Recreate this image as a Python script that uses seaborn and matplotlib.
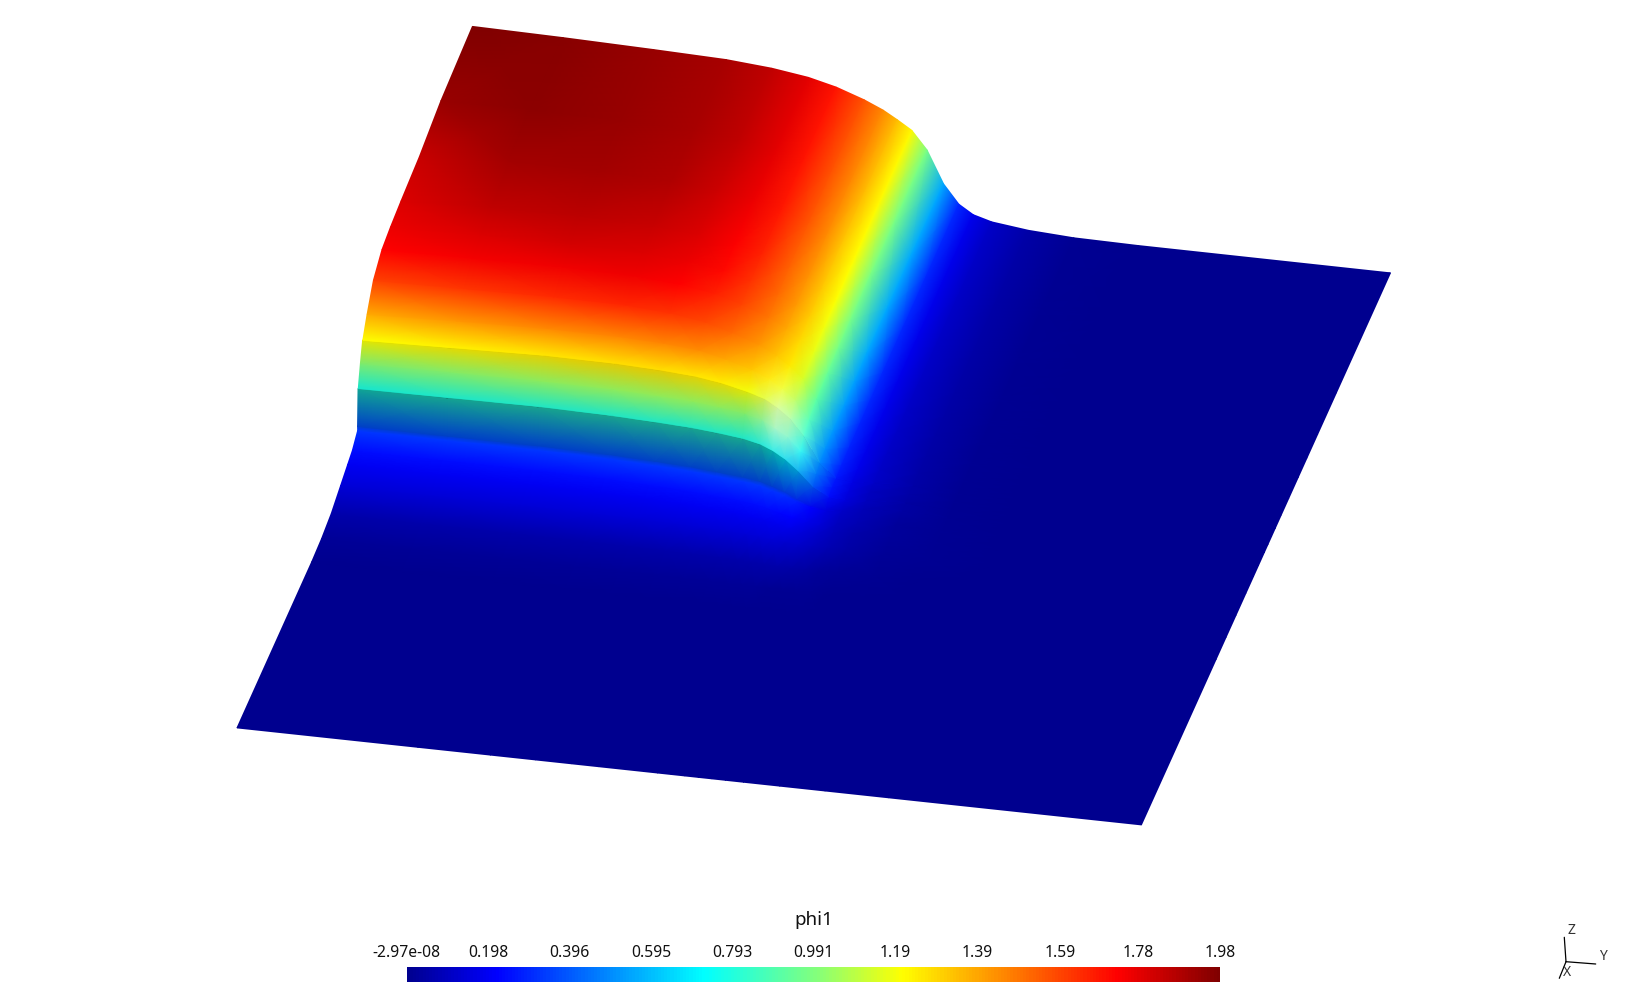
import numpy as np
import seaborn as sns
import matplotlib
matplotlib.use("Agg")
import matplotlib.pyplot as plt
from matplotlib.colors import LinearSegmentedColormap, Normalize

# ================= values =================
tick_values = [0.0, 0.198, 0.396, 0.595, 0.793, 0.991, 1.19, 1.39, 1.59, 1.78, 1.98]
tick_labels = ["-2.97e-08", "0.198", "0.396", "0.595", "0.793", "0.991", "1.19", "1.39", "1.59", "1.78", "1.98"]

# node positions across the plate (left to right, front to back), 0-1
s_nodes = [0, .1, .2, .28, .33, .37, .4, .43, .45, .465, .48, .495, .51, .525, .54, .56, .6, .65, .72, 1]
t_nodes = [0, .3, .34, .38, .42, .45, .47, .4935, .4945, .5075, .5085, .523, .5375, .5385, .5605, .592,
           .63, .665, .708, .783, .872, 1]

# phi1 at the nodes, one row per t_nodes entry
phi_grid = [
    [0, 0, 0, 0, 0, 0, 0, 0, 0, 0, 0, 0, 0, 0, 0, 0, 0, 0, 0, 0],
    [.005, .005, .005, .005, .005, .005, .005, .005, .005, .005, .005, .004, .003, .002, .002, .001, 0, 0, 0, 0],
    [.02, .02, .02, .02, .02, .02, .02, .02, .02, .02, .018, .015, .012, .01, .008, .005, .003, .001, 0, 0],
    [.06, .06, .06, .06, .06, .06, .06, .06, .06, .06, .06, .055, .05, .04, .03, .02, .01, .004, .001, 0],
    [.14, .14, .14, .14, .14, .14, .14, .14, .14, .14, .14, .13, .12, .10, .07, .05, .02, .008, .002, 0],
    [.20, .20, .20, .20, .20, .20, .20, .20, .20, .19, .19, .18, .15, .12, .09, .06, .03, .01, .003, 0],
    [.24, .24, .24, .24, .24, .24, .24, .24, .24, .24, .23, .22, .18, .14, .10, .07, .03, .01, .003, 0],
    [.33, .33, .33, .33, .33, .33, .33, .33, .33, .32, .31, .28, .22, .16, .11, .08, .04, .012, .004, 0],
    [.38, .38, .38, .38, .38, .38, .38, .38, .38, .37, .35, .31, .24, .17, .12, .08, .04, .012, .004, 0],
    [.78, .79, .80, .80, .80, .80, .80, .79, .77, .74, .68, .58, .39, .24, .15, .10, .04, .015, .004, 0],
    [.78, .79, .80, .80, .80, .80, .80, .79, .77, .74, .68, .58, .39, .24, .15, .10, .04, .015, .004, 0],
    [1.00, 1.02, 1.03, 1.04, 1.04, 1.04, 1.03, 1.01, .98, .93, .87, .73, .45, .26, .16, .10, .05, .015, .004, 0],
    [1.20, 1.23, 1.26, 1.27, 1.27, 1.26, 1.24, 1.19, 1.15, 1.09, 1.00, .83, .49, .27, .17, .11, .05, .015, .004, 0],
    [1.20, 1.23, 1.26, 1.27, 1.27, 1.26, 1.24, 1.19, 1.15, 1.09, 1.00, .83, .49, .27, .17, .11, .05, .015, .004, 0],
    [1.38, 1.42, 1.45, 1.46, 1.46, 1.44, 1.39, 1.32, 1.25, 1.18, 1.08, .88, .51, .28, .18, .11, .05, .015, .004, 0],
    [1.60, 1.62, 1.64, 1.65, 1.63, 1.58, 1.51, 1.42, 1.33, 1.25, 1.14, .92, .52, .29, .18, .11, .05, .015, .004, 0],
    [1.73, 1.75, 1.76, 1.76, 1.73, 1.67, 1.59, 1.48, 1.38, 1.29, 1.17, .94, .53, .29, .18, .11, .05, .015, .004, 0],
    [1.77, 1.80, 1.81, 1.80, 1.77, 1.71, 1.63, 1.51, 1.41, 1.31, 1.19, .96, .54, .30, .18, .11, .05, .015, .004, 0],
    [1.80, 1.85, 1.86, 1.84, 1.80, 1.74, 1.66, 1.53, 1.43, 1.32, 1.20, .97, .55, .30, .18, .11, .05, .015, .004, 0],
    [1.84, 1.91, 1.91, 1.88, 1.83, 1.77, 1.68, 1.55, 1.44, 1.33, 1.21, .98, .55, .30, .18, .11, .05, .015, .004, 0],
    [1.93, 1.95, 1.93, 1.90, 1.85, 1.78, 1.69, 1.56, 1.45, 1.34, 1.22, .98, .55, .30, .18, .11, .05, .015, .004, 0],
    [1.98, 1.96, 1.93, 1.90, 1.85, 1.78, 1.69, 1.56, 1.45, 1.34, 1.22, .98, .55, .30, .18, .11, .05, .015, .004, 0],
]

# how much the steep step is darkened by the light
dark_t = [0, 0, 0, 0, 0, 0, 0, 0, .22, .35, .10, .08, .10, 0, 0, 0, 0, 0, 0, 0, 0, 0]
dark_s = [1, 1, 1, 1, 1, 1, 1, 1, 1, .9, .7, .5, .3, .1, 0, 0, 0, 0, 0, 0]

# pale highlight at the inner corner of the step
glare_t = [0, 0, 0, 0, 0, 0, 0, 0, 0, 0, .3, .7, .7, .7, .3, 0, 0, 0, 0, 0, 0, 0]
glare_s = [0, 0, 0, 0, 0, 0, 0, 0, .3, .7, .6, .3, 0, 0, 0, 0, 0, 0, 0, 0]

# the front edge of the step sags towards the inner corner
sag_s = [0, 0, 0, .002, .005, .008, .012, .016, .02, .025, .03, .035, .035, .03, .02, .01, 0, 0, 0, 0]
sag_t = [0, 0, .05, .2, .4, .7, .9, 1, 1, 1, 1, 1, 1, 1, 1, 1, .8, .6, .4, .2, .05, 0]

# ================= view of the plate, in pixels =================
corner = np.array([237.0, 727.9])
u_vec = np.array([904.4, 97.0])
v_vec = np.array([249.1, -552.0])
z_vec = np.array([-6.9, -75.5])

sns.set_theme(style="white")
plt.rcParams["font.family"] = ["Noto Sans", "DejaVu Sans"]

jet = LinearSegmentedColormap.from_list("pv_jet", [
    (0.0, (0, 0, 0.5625)), (0.11, (0, 0, 1)), (0.365, (0, 1, 1)), (0.5, (0.5, 1, 0.5)),
    (0.61, (1, 1, 0)), (0.875, (1, 0, 0)), (1.0, (0.5, 0, 0))])
norm = Normalize(tick_values[0], tick_values[-1])

fig = plt.figure(figsize=(16.27, 10.01), dpi=100)
ax = fig.add_axes([0, 0, 1, 1])
ax.set_xlim(0, 1627)
ax.set_ylim(1001, 0)
ax.axis("off")

# ====== surface ======
phi = np.array(phi_grid)
s, t = np.meshgrid(s_nodes, t_nodes)
t = t - np.outer(sag_t, sag_s)
x = corner[0] + s * u_vec[0] + t * v_vec[0] + phi * z_vec[0]
y = corner[1] + s * u_vec[1] + t * v_vec[1] + phi * z_vec[1]
rgba = jet(norm(phi))
rgba[..., :3] *= (1 - np.outer(dark_t, dark_s))[..., None]
glare = np.outer(glare_t, glare_s)[..., None]
rgba[..., :3] += (1 - rgba[..., :3]) * glare
ax.pcolormesh(x, y, rgba, shading="gouraud")

# ====== colour bar ======
cax = fig.add_axes([406.7 / 1627, 1 - 982 / 1001, (1220 - 406.7) / 1627, 15.5 / 1001])
bar_levels = np.linspace(tick_values[0], tick_values[-1], 512)
sns.heatmap([bar_levels], ax=cax, cmap=jet, vmin=tick_values[0], vmax=tick_values[-1], cbar=False,
            xticklabels=False, yticklabels=False)
cax.set_xticks(np.array(tick_values) / tick_values[-1] * 512)
cax.set_xticklabels(tick_labels, fontsize=11.3, color="#111111", rotation=0)
cax.xaxis.tick_top()
cax.tick_params(axis="x", length=0, pad=4)
ax.text(813.5, 920, "phi1", ha="center", va="center", fontsize=13.5, color="#111111")

# ====== axes triad ======
origin = (1566, 961.7)
for end, name, pos in [((1564.3, 937.3), "Z", (1571.7, 930.5)),
                       ((1595.7, 964), "Y", (1603.3, 957)),
                       ((1559.3, 978.3), "X", (1566.7, 972.5))]:
    ax.plot([origin[0], end[0]], [origin[1], end[1]], color="black", lw=0.9)
    ax.text(pos[0], pos[1], name, ha="center", va="center", fontsize=10, color="#333333")

fig.savefig("out.png", dpi=100)
